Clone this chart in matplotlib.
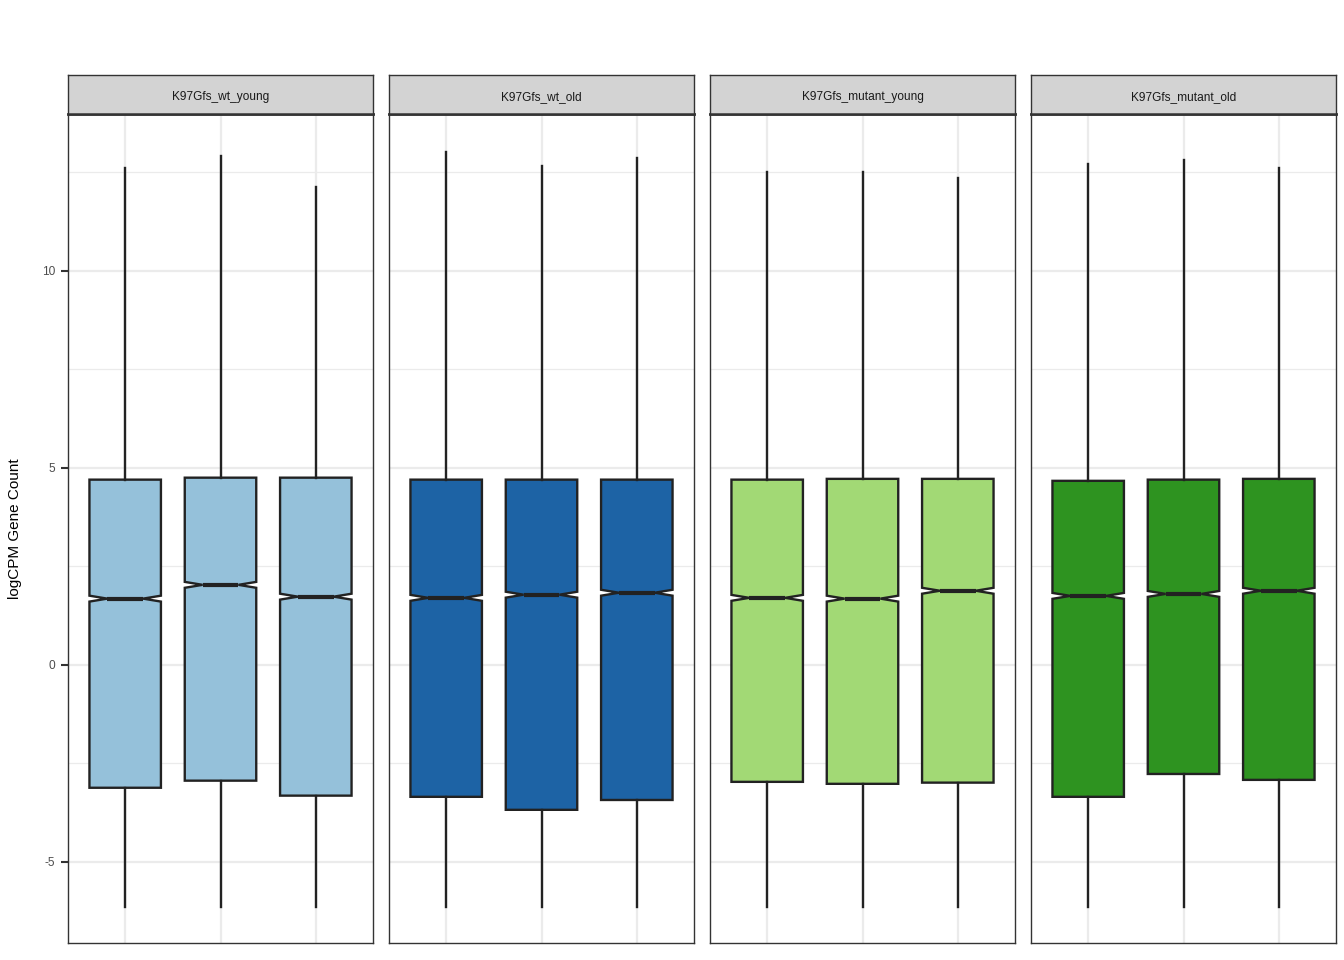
import matplotlib
matplotlib.use("Agg")
import matplotlib.pyplot as plt
from matplotlib.ticker import MultipleLocator

plt.rcParams['font.family'] = ['Liberation Sans', 'DejaVu Sans']
plt.rcParams['axes.unicode_minus'] = False

panels = ["K97Gfs_wt_young", "K97Gfs_wt_old", "K97Gfs_mutant_young", "K97Gfs_mutant_old"]
colors = ["#95C1DA", "#1D63A5", "#A2D975", "#2E9320"]

whishi = [[12.61, 12.92, 12.13], [13.02, 12.66, 12.87], [12.51, 12.51, 12.36], [12.72, 12.82, 12.61]]
q3 = [[4.70, 4.75, 4.75], [4.70, 4.70, 4.70], [4.70, 4.72, 4.72], [4.67, 4.70, 4.72]]
med = [[1.68, 2.03, 1.73], [1.70, 1.78, 1.83], [1.70, 1.68, 1.88], [1.75, 1.80, 1.88]]
q1 = [[-3.12, -2.94, -3.32], [-3.35, -3.68, -3.43], [-2.97, -3.02, -2.99], [-3.35, -2.77, -2.92]]
whislo = [[-6.14, -6.14, -6.14], [-6.14, -6.14, -6.14], [-6.14, -6.14, -6.14], [-6.14, -6.14, -6.14]]
ci_half = 0.075

W, H = 1344, 960
fig = plt.figure(figsize=(W / 100, H / 100), dpi=100)
fig.patch.set_facecolor("white")

lefts = [68, 389, 710, 1031]
pw = 305
top, bottom = 114, 943
strip_top = 75
border = "#333333"
grid = "#EBEBEB"

for i, name in enumerate(panels):
    ax = fig.add_axes([lefts[i] / W, (H - bottom) / H, pw / W, (bottom - top) / H])
    stats = []
    for j in range(3):
        stats.append(dict(med=med[i][j], q1=q1[i][j], q3=q3[i][j],
                          whislo=whislo[i][j], whishi=whishi[i][j],
                          cilo=med[i][j] - ci_half, cihi=med[i][j] + ci_half,
                          fliers=[]))
    bp = ax.bxp(stats, positions=[1, 2, 3], widths=0.75, shownotches=True,
                patch_artist=True, showcaps=False, showfliers=False,
                boxprops=dict(facecolor=colors[i], edgecolor="#222222", linewidth=1.7),
                whiskerprops=dict(color="#222222", linewidth=1.7),
                medianprops=dict(color="#222222", linewidth=3.0, solid_capstyle="butt"),
                zorder=3)
    ax.set_xlim(0.4, 3.6)
    ax.set_ylim(-7.06, 13.98)
    ax.yaxis.set_major_locator(MultipleLocator(5))
    ax.yaxis.set_minor_locator(MultipleLocator(2.5))
    ax.set_xticks([1, 2, 3])
    ax.grid(True, which="major", color=grid, linewidth=1.6, zorder=0)
    ax.grid(True, which="minor", axis="y", color=grid, linewidth=0.9, zorder=0)
    ax.set_axisbelow(True)
    ax.tick_params(axis="x", length=0, labelbottom=False)
    ax.tick_params(axis="y", which="minor", length=0)
    if i == 0:
        ax.tick_params(axis="y", which="major", length=5, width=1.5, color=border,
                       labelsize=8.6, labelcolor="#4D4D4D", pad=4.5)
        ax.set_ylabel("logCPM Gene Count", fontsize=11, color="black", labelpad=14)
    else:
        ax.tick_params(axis="y", which="major", length=0, labelleft=False)
    for s in ax.spines.values():
        s.set_color(border)
        s.set_linewidth(1.0)
    ax.spines["top"].set_linewidth(1.8)

    sax = fig.add_axes([lefts[i] / W, (H - top) / H, pw / W, (top - strip_top) / H])
    sax.set_facecolor("#D3D3D3")
    sax.set_xticks([])
    sax.set_yticks([])
    for s in sax.spines.values():
        s.set_color(border)
        s.set_linewidth(1.0)
    sax.spines["bottom"].set_linewidth(1.8)
    sax.text(0.5, 0.44, name, ha="center", va="center", fontsize=8.6,
             color="#1A1A1A", transform=sax.transAxes)

fig.savefig("out.png", dpi=100, facecolor="white")
